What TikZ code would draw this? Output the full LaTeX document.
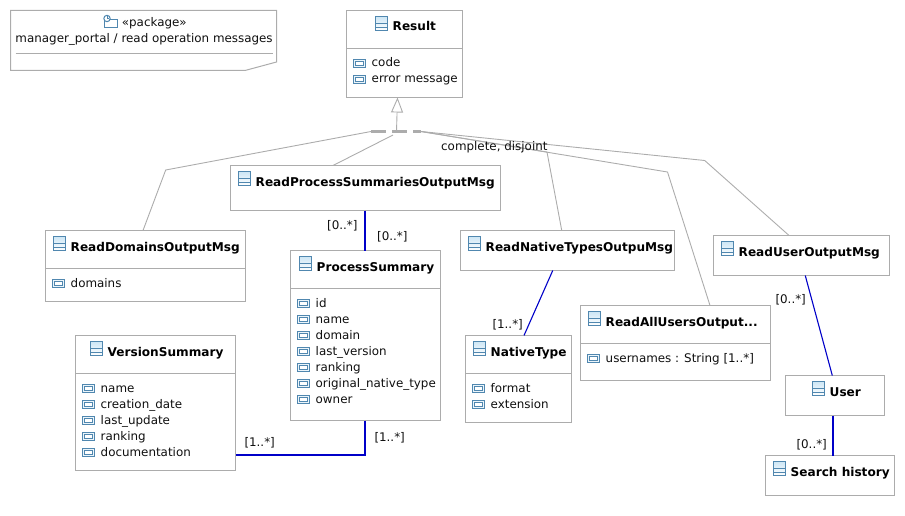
\documentclass[tikz,border=0pt]{standalone}
\usepackage{fontspec}
\setmainfont{DejaVu Sans}
\usetikzlibrary{arrows.meta}

\definecolor{boxgrey}{RGB}{172,172,172}
\definecolor{assocblue}{RGB}{0,0,200}
\definecolor{iconblue}{RGB}{80,135,175}
\definecolor{iconfill}{RGB}{205,230,245}
\definecolor{textdark}{RGB}{15,15,15}

\tikzset{
	boxline/.style={draw=boxgrey, line width=1pt},
	classbox/.style={boxline, rectangle, anchor=north west, inner sep=0pt, outer sep=0pt},
	genline/.style={draw=boxgrey, line width=0.9pt},
	assocline/.style={draw=assocblue, line width=1.1pt},
	plaintext/.style={anchor=base west, inner sep=0pt, text=textdark, font=\fontsize{11.9}{14}\selectfont},
	classtext/.style={plaintext, text=black, font=\fontsize{12.1}{14}\selectfont\bfseries},
	classicon/.pic={
		\draw [iconblue, line width=1pt, top color=iconfill, bottom color=white] (0,0) rectangle (12,14);
		\draw [iconblue, line width=1pt] (0,7) -- (12,7) (0,11) -- (12,11);
	},
	attricon/.pic={
		\draw [iconblue, line width=1pt, fill=iconfill!40] (0,0) rectangle (12,8);
		\draw [iconblue, line width=1pt, fill=white] (2,2) rectangle (10,6);
	},
	packageicon/.pic={
		\draw [iconblue, line width=1pt, fill=white] (2,5) -- (15,5) -- (15,13) -- (2,13) -- cycle;
		\draw [iconblue, line width=1pt, fill=white] (5,3.5) circle (3.2);
		\draw [iconblue, line width=0.6pt] (5,3.5) -- (5,1.5) (5,3.5) -- (6.5,3.5);
	}
}

% icon at x, title on baseline y
\newcommand{\classtitle}[4]{
	\pic at (#2,#3-14.5) {classicon};
	\node [classtext] (#1Title) at (#2+17,#3) {#4};
}
% one attribute row: icon at x, text on baseline y
\newcommand{\attrrow}[4]{
	\pic at (#2,#3-7.5) {attricon};
	\node [plaintext] (#1) at (#2+18,#3) {#4};
}

\begin{document}
\begin{tikzpicture}[x=1pt, y=-1pt]
	\useasboundingbox (0,0) rectangle (905,516);

	% package note
	\draw [boxline] (10.5,10.5) -- (276.5,10.5) -- (276.5,62) -- (245,70.5) -- (10.5,70.5) -- cycle;
	\draw [boxline] (15.5,53.5) -- (272.5,53.5);
	\pic at (102,15) {packageicon};
	\node [plaintext] (PackageStereo) at (121.7,26.7) {«package»};
	\node [plaintext] (PackageName) at (15.3,42.7) {manager\_portal / read operation messages};

	% classes
	\node [classbox, minimum width=116, minimum height=87] (Result) at (346.5,10.5) {};
	\node [classbox, minimum width=200, minimum height=70.5] (ReadDomains) at (45.5,230.5) {};
	\node [classbox, minimum width=270, minimum height=45] (ReadProcess) at (230.5,165.5) {};
	\node [classbox, minimum width=150, minimum height=170] (ProcessSummary) at (290.5,250.5) {};
	\node [classbox, minimum width=160, minimum height=134.5] (VersionSummary) at (75.5,335.5) {};
	\node [classbox, minimum width=213.5, minimum height=40] (ReadNative) at (460.5,230.5) {};
	\node [classbox, minimum width=106, minimum height=87] (NativeType) at (465.5,335.5) {};
	\node [classbox, minimum width=190, minimum height=75] (ReadAll) at (580.5,305.5) {};
	\node [classbox, minimum width=175.5, minimum height=40] (ReadUser) at (713.5,235.5) {};
	\node [classbox, minimum width=99, minimum height=40] (User) at (785.5,375.5) {};
	\node [classbox, minimum width=129, minimum height=40] (SearchHistory) at (765.5,455.5) {};

	% compartment lines
	\draw [boxline] (346.5,48.5) -- (462.5,48.5);
	\draw [boxline] (45.5,268.5) -- (245.5,268.5);
	\draw [boxline] (290.5,288.5) -- (440.5,288.5);
	\draw [boxline] (75.5,373.5) -- (235.5,373.5);
	\draw [boxline] (465.5,373.5) -- (571.5,373.5);
	\draw [boxline] (580.5,343.5) -- (770.5,343.5);

	% titles
	\classtitle{Result}{375.5}{31}{Result}
	\classtitle{ReadDomains}{53.5}{251}{ReadDomainsOutputMsg}
	\classtitle{ReadProcess}{238.5}{186}{ReadProcessSummariesOutputMsg}
	\classtitle{ProcessSummary}{299.5}{271}{ProcessSummary}
	\classtitle{VersionSummary}{90.5}{356}{VersionSummary}
	\classtitle{ReadNative}{468.5}{251}{ReadNativeTypesOutpuMsg}
	\classtitle{NativeType}{473.5}{356}{NativeType}
	\classtitle{ReadAll}{588.5}{326}{ReadAllUsersOutput...}
	\classtitle{ReadUser}{721.5}{256}{ReadUserOutputMsg}
	\classtitle{User}{812.5}{396}{User}
	\classtitle{SearchHistory}{773.5}{476}{Search history}

	% attributes
	\foreach \attrname [count=\i] in {code, error message} {
		\attrrow{ResultAttr\i}{353.5}{51+16*\i}{\attrname}
	}
	\attrrow{DomainsAttr}{52.5}{287}{domains}
	\foreach \attrname [count=\i] in {id, name, domain, last\_version, ranking, original\_native\_type, owner} {
		\attrrow{ProcessAttr\i}{297.5}{291+16*\i}{\attrname}
	}
	\foreach \attrname [count=\i] in {name, creation\_date, last\_update, ranking, documentation} {
		\attrrow{VersionAttr\i}{82.5}{376+16*\i}{\attrname}
	}
	\foreach \attrname [count=\i] in {format, extension} {
		\attrrow{NativeAttr\i}{472.5}{376+16*\i}{\attrname}
	}
	\attrrow{UsersAttr}{587.5}{362}{usernames : String [1..*]}

	% generalization set
	\coordinate (GenLeft) at (371,131.5);
	\coordinate (GenMid) at (396.5,131.5);
	\coordinate (GenInner) at (393,135);
	\coordinate (GenRight) at (421,131.5);
	\coordinate (DomainsBend) at (165.7,170);
	\coordinate (NativeBend) at (547,152);
	\coordinate (AllBend) at (667.5,172);
	\coordinate (UserBend) at (704.7,160.5);

	\draw [boxgrey, line width=3pt, dash pattern=on 15pt off 6pt] (GenLeft) -- (GenRight);
	\draw [genline, -{Triangle[open, length=15pt, width=12pt]}] (GenMid) -- ([xshift=-7pt]Result.south);
	\draw [genline] ([xshift=-2.5pt]ReadDomains.north) -- (DomainsBend) -- (GenLeft);
	\draw [genline] ([xshift=-32.5pt]ReadProcess.north) -- (GenInner);
	\draw [genline] ([xshift=-5.5pt]ReadNative.north) -- (NativeBend) -- (GenRight);
	\draw [genline] ([xshift=34.5pt]ReadAll.north) -- (AllBend) -- (GenRight);
	\draw [genline] ([xshift=-12.2pt]ReadUser.north) -- (UserBend) -- (GenRight);
	\node [plaintext] (GenLabel) at (441,150.7) {complete, disjoint};

	% associations
	\draw [assocline] ([xshift=-0.5pt]ReadProcess.south) -- ([xshift=-0.5pt]ProcessSummary.north);
	\draw [assocline] ([xshift=-14.5pt]ReadNative.south) -- ([xshift=5.5pt]NativeType.north);
	\draw [assocline] ([xshift=4pt]ReadUser.south) -- ([xshift=-2.7pt]User.north);
	\draw [assocline] ([xshift=-2pt]User.south) -- ([xshift=3pt]SearchHistory.north);
	\draw [assocline] ([xshift=-0.5pt]ProcessSummary.south) |- ([yshift=-52.25pt]VersionSummary.east);

	% multiplicities
	\node [plaintext] (ProcessMultA) at (327,229) {[0..*]};
	\node [plaintext] (ProcessMultB) at (377,240.7) {[0..*]};
	\node [plaintext] (NativeMult) at (492.3,328) {[1..*]};
	\node [plaintext] (UserMult) at (775.3,303) {[0..*]};
	\node [plaintext] (SearchMult) at (796.3,448) {[0..*]};
	\node [plaintext] (VersionMultA) at (244.3,446.7) {[1..*]};
	\node [plaintext] (VersionMultB) at (374.3,441.7) {[1..*]};
\end{tikzpicture}
\end{document}
